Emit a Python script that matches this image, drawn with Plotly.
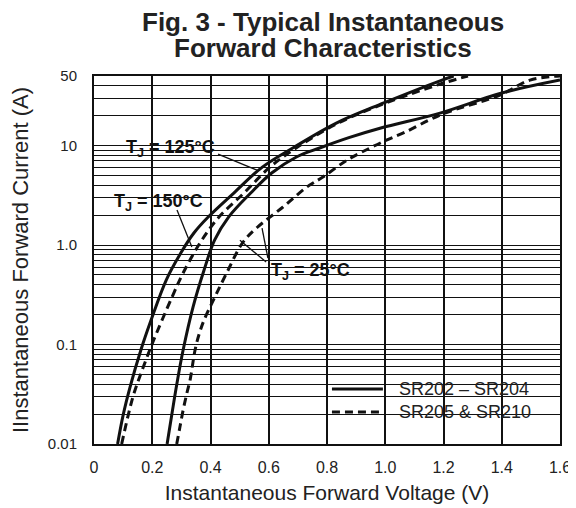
import math
import plotly.graph_objects as go

# ---------------- data ----------------
v_tick_vals = [0, 0.2, 0.4, 0.6, 0.8, 1.0, 1.2, 1.4, 1.6]
v_tick_text = ["0", "0.2", "0.4", "0.6", "0.8", "1.0", "1.2", "1.4", "1.6"]

i_label_vals = [0.01, 0.1, 1.0, 10, 50]
i_label_text = ["0.01", "0.1", "1.0", "10", "50"]
i_grid_vals = [0.02, 0.03, 0.04, 0.05, 0.06, 0.07, 0.08, 0.09,
               0.2, 0.3, 0.4, 0.5, 0.6, 0.7, 0.8, 0.9,
               2, 3, 4, 5, 6, 7, 8, 9,
               20, 30, 40]

# SR202 - SR204, TJ = 125 C (solid)
i_sr202_125 = [0.01, 0.0195, 0.0375, 0.088, 0.176, 0.445, 0.831, 1.32, 1.91, 3.33, 6.07, 9.66, 16.8, 26.8, 45.5, 50]
v_sr202_125 = [0.081, 0.100, 0.124, 0.161, 0.196, 0.248, 0.298, 0.343, 0.392, 0.480, 0.578, 0.688, 0.832, 0.995, 1.195, 1.235]

# SR205 & SR210, TJ = 150 C (dashed)
i_sr205_150 = [0.01, 0.030, 0.058, 0.111, 0.30, 0.523, 1.05, 1.91, 3.33, 6.07, 9.7, 16.8, 26.8, 41.4, 50]
v_sr205_150 = [0.095, 0.134, 0.168, 0.205, 0.268, 0.306, 0.364, 0.429, 0.515, 0.604, 0.700, 0.838, 1.003, 1.188, 1.284]

# SR202 - SR204, TJ = 25 C (solid)
i_sr202_25 = [0.01, 0.0205, 0.041, 0.088, 0.238, 0.561, 1.12, 1.91, 3.33, 5.29, 7.67, 9.45, 12.0, 15.0, 21.2, 33.7, 45.5]
v_sr202_25 = [0.251, 0.268, 0.285, 0.306, 0.340, 0.378, 0.414, 0.462, 0.538, 0.610, 0.695, 0.775, 0.875, 0.985, 1.188, 1.400, 1.600]

# SR205 & SR210, TJ = 25 C (dashed)
i_sr205_25 = [0.01, 0.0148, 0.0219, 0.0325, 0.0441, 0.088, 0.130, 0.176, 0.30, 0.52, 1.05, 1.50, 2.41, 3.83, 4.82, 7.14, 9.45, 11.4, 13.7, 18.0, 21.2, 32.2, 45.5, 50]
v_sr205_25 = [0.284, 0.295, 0.306, 0.319, 0.330, 0.347, 0.362, 0.378, 0.415, 0.455, 0.510, 0.560, 0.649, 0.731, 0.786, 0.869, 0.948, 1.006, 1.070, 1.150, 1.205, 1.394, 1.497, 1.600]

series_names = ["SR202 – SR204", "SR205 & SR210"]
temp_labels = ["T<sub>J</sub> = 125°C", "T<sub>J</sub> = 150°C", "T<sub>J</sub> = 25°C"]

# ---------------- figure ----------------
X_MAX = 1.6
Y_MIN, Y_MAX = 0.01, 50
LOG_SPAN = math.log10(Y_MAX) - math.log10(Y_MIN)


def P(v, i):
    """voltage/current -> paper coordinates"""
    return v / X_MAX, (math.log10(i) - math.log10(Y_MIN)) / LOG_SPAN


INK = "#111111"
TXT = "#222222"
FONT = "Liberation Sans, Arial, sans-serif"
solid = dict(color=INK, width=3)
dashed = dict(color=INK, width=3, dash="8px,5px")

fig = go.Figure()
fig.add_trace(go.Scatter(x=v_sr202_125, y=i_sr202_125, mode="lines", line=solid, line_shape="spline", showlegend=False))
fig.add_trace(go.Scatter(x=v_sr205_150, y=i_sr205_150, mode="lines", line=dashed, line_shape="spline", showlegend=False))
fig.add_trace(go.Scatter(x=v_sr202_25, y=i_sr202_25, mode="lines", line=solid, line_shape="spline", showlegend=False))
fig.add_trace(go.Scatter(x=v_sr205_25, y=i_sr205_25, mode="lines", line=dashed, line_shape="spline", showlegend=False))

shapes = []
annotations = []

# white label / legend backgrounds hiding the grid
boxes = [
    ((0.100, 11.6), (0.426, 7.66)),     # TJ = 125
    ((0.062, 3.33), (0.378, 2.19)),     # TJ = 150
    ((0.553, 0.775), (0.906, 0.361)),   # TJ = 25
    ((0.786, 0.0494), (1.538, 0.0138)), # legend
]
for (v0, i0), (v1, i1) in boxes:
    x0, y0 = P(v0, i0)
    x1, y1 = P(v1, i1)
    shapes.append(dict(type="rect", xref="paper", yref="paper", x0=x0, y0=y1, x1=x1, y1=y0,
                       fillcolor="white", line=dict(width=0), layer="between"))

# leader lines
leaders = [
    ((0.426, 8.2), (0.560, 5.66)),
    ((0.285, 2.25), (0.336, 0.955)),
    ((0.501, 1.12), (0.591, 0.675)),
    ((0.577, 1.48), (0.597, 0.74)),
]
for (v0, i0), (v1, i1) in leaders:
    x0, y0 = P(v0, i0)
    x1, y1 = P(v1, i1)
    shapes.append(dict(type="line", xref="paper", yref="paper", x0=x0, y0=y0, x1=x1, y1=y1,
                       line=dict(color=INK, width=1.3), layer="above"))

# temperature labels
label_pos = [(0.261, 9.44), (0.220, 2.70), (0.745, 0.548)]
for txt, (v, i) in zip(temp_labels, label_pos):
    x, y = P(v, i)
    annotations.append(dict(text="<b>" + txt + "</b>", x=x, y=y, xref="paper", yref="paper",
                            showarrow=False, xanchor="center", yanchor="middle",
                            font=dict(family=FONT, size=18, color=INK)))

# manual legend
leg_rows = [(0.0357, solid), (0.021, dashed)]
for name, (i_row, style) in zip(series_names, leg_rows):
    x0, y = P(0.817, i_row)
    x1, _ = P(0.992, i_row)
    shapes.append(dict(type="line", xref="paper", yref="paper", x0=x0, y0=y, x1=x1, y1=y,
                       line=style, layer="above"))
    xt, _ = P(1.040, i_row)
    annotations.append(dict(text=name, x=xt, y=y, xref="paper", yref="paper", showarrow=False,
                            xanchor="left", yanchor="middle",
                            font=dict(family=FONT, size=18, color=TXT)))

# title (two lines)
annotations.append(dict(text="<b>Fig. 3 - Typical Instantaneous</b>", x=0.491, y=1.146,
                        xref="paper", yref="paper", showarrow=False, xanchor="center", yanchor="middle",
                        font=dict(family=FONT, size=26, color=TXT)))
annotations.append(dict(text="<b>Forward Characteristics</b>", x=0.491, y=1.077,
                        xref="paper", yref="paper", showarrow=False, xanchor="center", yanchor="middle",
                        font=dict(family=FONT, size=26, color=TXT)))

# the page body adds an 8px offset: margins compensate so the plot area sits at 94..560 x 76..444
fig.update_layout(
    width=576, height=508,
    margin=dict(l=86, r=24, t=68, b=72, autoexpand=False),
    paper_bgcolor="white", plot_bgcolor="white",
    shapes=shapes, annotations=annotations,
    showlegend=False,
    font=dict(family=FONT, color=TXT),
)
fig.update_xaxes(
    range=[0, X_MAX], tickvals=v_tick_vals, ticktext=v_tick_text,
    showgrid=True, gridcolor=INK, gridwidth=1.5, zeroline=False,
    showline=True, linecolor=INK, linewidth=2, mirror=True,
    ticks="", ticklabelstandoff=8, automargin=False,
    tickfont=dict(family=FONT, size=16, color=TXT),
    title=dict(text="Instantaneous Forward Voltage (V)", standoff=10,
               font=dict(family=FONT, size=21, color=TXT)),
)
y_vals = sorted(i_label_vals + i_grid_vals)
y_text = [i_label_text[i_label_vals.index(v)] if v in i_label_vals else "" for v in y_vals]
fig.update_yaxes(
    type="log", range=[math.log10(Y_MIN), math.log10(Y_MAX)],
    tickvals=y_vals, ticktext=y_text,
    showgrid=True, gridcolor=INK, gridwidth=1.3, zeroline=False,
    showline=True, linecolor=INK, linewidth=2, mirror=True,
    ticks="", ticklabelstandoff=12, automargin=False,
    tickfont=dict(family=FONT, size=15, color=TXT),
    title=dict(text="IInstantaneous Forward Current (A)", standoff=14,
               font=dict(family=FONT, size=22, color=TXT)),
)

fig.write_html("out.html")
